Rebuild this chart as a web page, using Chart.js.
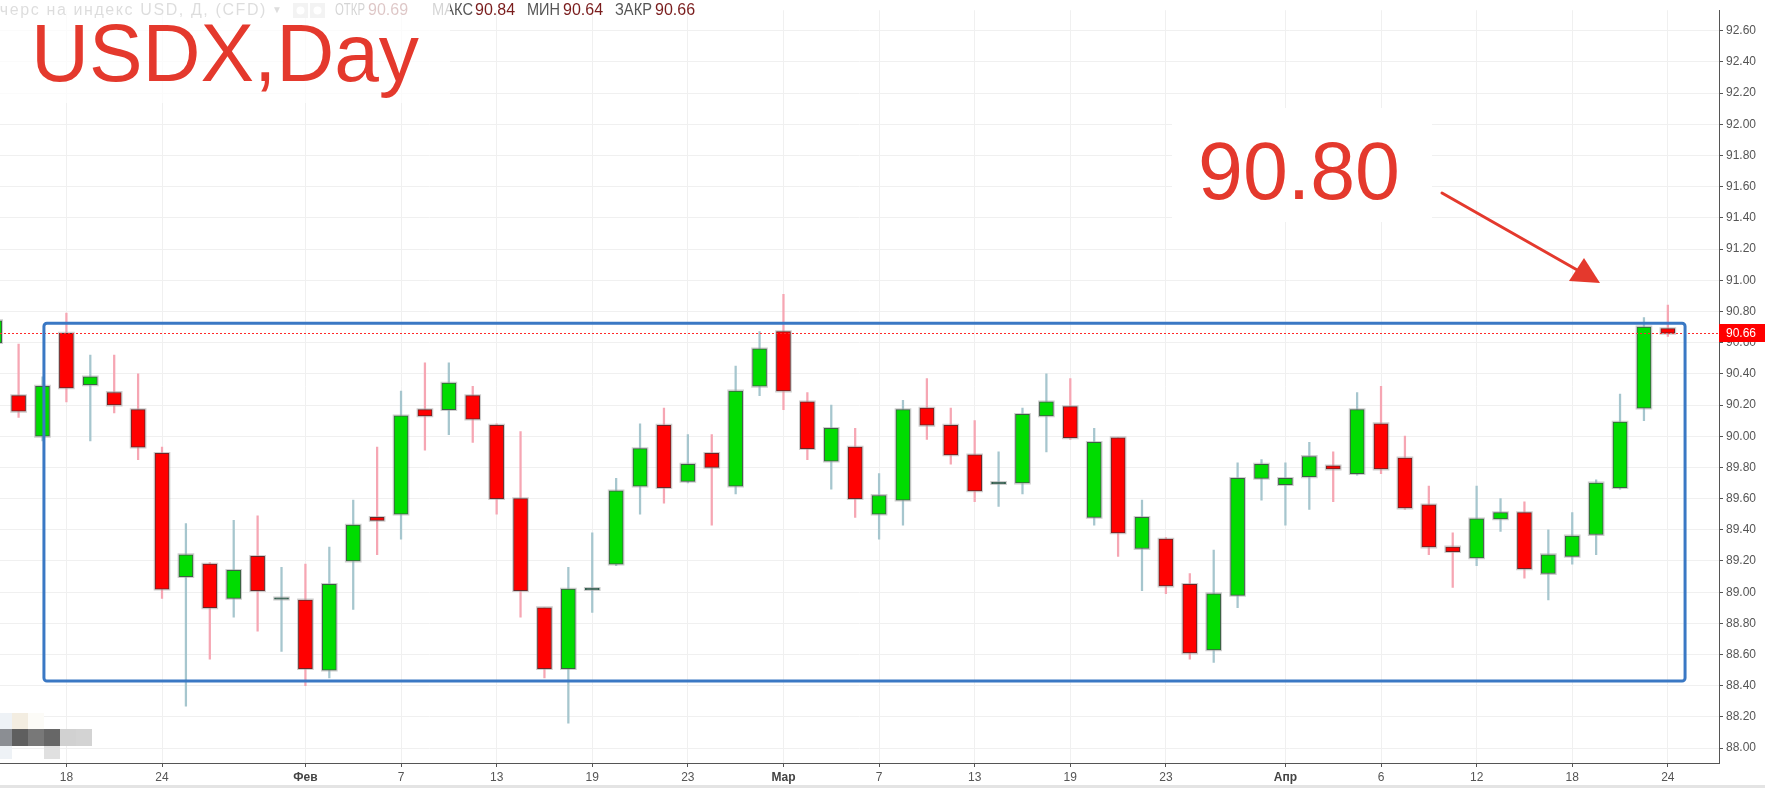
<!DOCTYPE html>
<html><head><meta charset="utf-8">
<script src="https://cdn.jsdelivr.net/npm/chart.js@4.4.1/dist/chart.umd.min.js"></script>
<style>html,body{margin:0;padding:0;background:#fff;overflow:hidden}#wrap{width:1765px;height:788px;position:relative}</style>
</head><body><div id="wrap"><canvas id="c" width="1765" height="788"></canvas></div>
<script>
// ---------- data (daily OHLC, 2018) ----------
const dates = ['Jan 15','Jan 16','Jan 17','Jan 18','Jan 19','Jan 22','Jan 23','Jan 24','Jan 25','Jan 26','Jan 29','Jan 30','Jan 31',
  'Feb 1','Feb 2','Feb 5','Feb 6','Feb 7','Feb 8','Feb 9','Feb 12','Feb 13','Feb 14','Feb 15','Feb 16','Feb 19','Feb 20','Feb 21','Feb 22','Feb 23','Feb 26','Feb 27','Feb 28',
  'Mar 1','Mar 2','Mar 5','Mar 6','Mar 7','Mar 8','Mar 9','Mar 12','Mar 13','Mar 14','Mar 15','Mar 16','Mar 19','Mar 20','Mar 21','Mar 22','Mar 23','Mar 26','Mar 27','Mar 28','Mar 29',
  'Apr 2','Apr 3','Apr 4','Apr 5','Apr 6','Apr 9','Apr 10','Apr 11','Apr 12','Apr 13','Apr 16','Apr 17','Apr 18','Apr 19','Apr 20','Apr 23','Apr 24'];
const opens  = [90.60,90.26,90.00,90.66,90.33,90.28,90.17,89.89,89.10,89.18,88.96,89.23,88.96,
  88.95,88.50,89.20,89.48,89.50,90.17,90.17,90.26,90.07,89.60,88.90,88.51,89.02,89.18,89.68,90.07,89.71,89.89,89.68,90.32,
  90.67,90.22,89.84,89.93,89.50,89.59,90.18,90.07,89.88,89.70,89.70,90.13,90.19,89.48,89.99,89.28,89.34,89.05,88.63,88.98,89.73,
  89.69,89.74,89.81,89.76,90.08,89.86,89.56,89.29,89.22,89.47,89.51,89.12,89.23,89.37,89.67,90.18,90.69];
const highs  = [90.78,90.59,90.38,90.79,90.52,90.52,90.40,89.93,89.44,89.19,89.46,89.49,89.16,
  89.18,89.29,89.59,89.93,90.29,90.47,90.47,90.32,90.08,90.03,88.90,89.16,89.38,89.73,90.08,90.18,90.01,90.01,90.45,90.67,
  90.91,90.28,90.20,90.05,89.76,90.23,90.37,90.18,90.10,89.90,90.18,90.40,90.37,90.05,89.99,89.59,89.35,89.12,89.27,89.83,89.85,
  89.83,89.96,89.90,90.28,90.32,90.00,89.68,89.38,89.68,89.60,89.58,89.40,89.51,89.72,90.27,90.76,90.84];
const lows   = [90.55,90.12,89.97,90.22,89.97,90.15,89.85,88.96,88.27,88.57,88.84,88.75,88.62,
  88.40,88.45,88.89,89.24,89.34,89.91,90.01,89.96,89.50,88.84,88.45,88.16,88.87,89.17,89.50,89.57,89.70,89.43,89.63,90.26,
  90.17,89.85,89.66,89.48,89.34,89.43,89.98,89.82,89.58,89.55,89.63,89.90,89.98,89.43,89.23,89.01,88.99,88.57,88.55,88.90,89.59,
  89.43,89.53,89.58,89.75,89.76,89.53,89.24,89.03,89.17,89.39,89.09,88.95,89.18,89.24,89.66,90.10,90.64];
const closes = [90.74,90.16,90.32,90.31,90.38,90.20,89.93,89.02,89.24,88.90,89.14,89.01,88.96,
  88.51,89.05,89.43,89.46,90.13,90.13,90.34,90.11,89.60,89.01,88.51,89.02,89.02,89.65,89.92,89.67,89.82,89.80,90.29,90.56,
  90.29,89.92,90.05,89.60,89.62,90.17,90.07,89.88,89.65,89.70,90.14,90.22,89.99,89.96,89.38,89.48,89.04,88.61,88.99,89.73,89.82,
  89.73,89.87,89.79,90.17,89.79,89.54,89.29,89.26,89.47,89.51,89.15,89.24,89.36,89.70,90.09,90.70,90.66];

// axis labels
const tickDates  = ['Jan 18','Jan 24','Feb 1','Feb 7','Feb 13','Feb 19','Feb 23','Mar 1','Mar 7','Mar 13','Mar 19','Mar 23','Apr 2','Apr 6','Apr 12','Apr 18','Apr 24'];
const tickLabels = ['18','24','Фев','7','13','19','23','Мар','7','13','19','23','Апр','6','12','18','24'];
const monthLabels = ['Фев','Мар','Апр'];
const priceTicks = [88.00,88.20,88.40,88.60,88.80,89.00,89.20,89.40,89.60,89.80,90.00,90.20,90.40,90.60,90.80,91.00,91.20,91.40,91.60,91.80,92.00,92.20,92.40,92.60];

// annotations
const lastPrice = 90.66;
const rangeBoxIdx = [2.06, 70.72];      // in candle index units
const rangeBoxPrice = [88.43, 90.724];
const titleText = 'USDX,Day';
const targetText = '90.80';
const headerName = 'Фьючерс на индекс USD, Д, (CFD)';
const headerKeys = ['ОТКР','МАКС','МИН','ЗАКР'];

// ---------- derived ----------
const N = dates.length;
const last = N - 1;
const tickIndex = tickDates.map(d => dates.indexOf(d));
const isDoji = i => Math.abs(closes[i] - opens[i]) < 0.005;
const isBull = i => closes[i] >= opens[i];

const wickData = dates.map((d, i) => ({x: i, y: [lows[i], highs[i]]}));
const bodyData = dates.map((d, i) => {
  let lo = Math.min(opens[i], closes[i]), hi = Math.max(opens[i], closes[i]);
  if (hi - lo < 0.008) { const m = (lo + hi) / 2; lo = m - 0.004; hi = m + 0.004; }
  return {x: i, y: [lo, hi]};
});
const haloData = bodyData.map(p => ({x: p.x, y: [p.y[0] - 0.007, p.y[1] + 0.007]}));

const GREEN = '#00dc00', RED = '#ff0000';
const bodyFill = dates.map((d, i) => isDoji(i) ? '#2f5b4b' : (isBull(i) ? GREEN : RED));
const bodyBorder = dates.map((d, i) => isDoji(i) ? '#2f5b4b' : (isBull(i) ? '#3d5f45' : '#6e2626'));
const wickColor = dates.map((d, i) => (isBull(i) ? '#a6c6ce' : '#f6a6b3'));

const FONT = '"Liberation Sans", Arial, sans-serif';

const overlayPlugin = {
  id: 'overlay',
  afterDatasetsDraw(chart) {
    const {ctx, chartArea, scales: {x, y}} = chart;
    ctx.save();
    ctx.beginPath(); ctx.rect(chartArea.left, chartArea.top, chartArea.right - chartArea.left, chartArea.bottom - chartArea.top); ctx.clip();
    // last price dotted line
    const py = Math.round(y.getPixelForValue(lastPrice)) + 0.5;
    ctx.strokeStyle = '#ff2a2a'; ctx.lineWidth = 1; ctx.setLineDash([2, 2]);
    ctx.beginPath(); ctx.moveTo(chartArea.left, py); ctx.lineTo(chartArea.right, py); ctx.stroke();
    ctx.setLineDash([]);
    // range box
    const x0 = x.getPixelForValue(rangeBoxIdx[0]), x1 = x.getPixelForValue(rangeBoxIdx[1]);
    const y0 = y.getPixelForValue(rangeBoxPrice[1]), y1 = y.getPixelForValue(rangeBoxPrice[0]);
    const r = 3;
    ctx.strokeStyle = '#3a78c4'; ctx.lineWidth = 3;
    ctx.beginPath();
    ctx.moveTo(x0 + r, y0); ctx.lineTo(x1 - r, y0); ctx.arcTo(x1, y0, x1, y0 + r, r);
    ctx.lineTo(x1, y1 - r); ctx.arcTo(x1, y1, x1 - r, y1, r);
    ctx.lineTo(x0 + r, y1); ctx.arcTo(x0, y1, x0, y1 - r, r);
    ctx.lineTo(x0, y0 + r); ctx.arcTo(x0, y0, x0 + r, y0, r);
    ctx.closePath(); ctx.stroke();
    ctx.restore();
  },
  afterDraw(chart) {
    const {ctx, chartArea, scales: {y}} = chart;
    ctx.save();
    // price label on axis
    const py = y.getPixelForValue(lastPrice);
    ctx.fillStyle = '#ff0000';
    ctx.fillRect(chartArea.right, Math.round(py) - 9, 1765 - chartArea.right, 18);
    ctx.fillStyle = '#ffffff'; ctx.font = '12px ' + FONT; ctx.textBaseline = 'middle'; ctx.textAlign = 'left';
    ctx.fillText(lastPrice.toFixed(2), chartArea.right + 7, Math.round(py) + 0.5);

    // header legend line
    ctx.textBaseline = 'alphabetic';
    ctx.font = '16px ' + FONT;
    const visible = headerName.slice(3);
    const w = ctx.measureText(visible).width;
    ctx.letterSpacing = Math.max(0, (267 - w) / visible.length).toFixed(2) + 'px';
    ctx.fillStyle = '#7a7a7a'; ctx.textAlign = 'right';
    ctx.fillText(headerName, 267, 15);
    ctx.letterSpacing = '0px';
    ctx.textAlign = 'left';
    ctx.font = '10px ' + FONT;
    ctx.fillText('▼', 272, 13);
    ctx.fillStyle = '#cfcfcf'; ctx.fillRect(293, 3, 15, 15); ctx.fillRect(310, 3, 15, 15);
    ctx.fillStyle = '#ffffff';
    ctx.beginPath(); ctx.arc(300.5, 10.5, 4, 0, Math.PI * 2); ctx.fill();
    ctx.beginPath(); ctx.arc(317.5, 10.5, 4, 0, Math.PI * 2); ctx.fill();
    ctx.font = '16px ' + FONT;
    const vals = [opens[last], highs[last], lows[last], closes[last]];
    const keyX = [335, 432, 527, 615], keyW = [30, 41, 33, 37], valX = [368, 475, 563, 655];
    for (let k = 0; k < 4; k++) {
      ctx.fillStyle = '#555555'; ctx.fillText(headerKeys[k], keyX[k], 15, keyW[k]);
      ctx.fillStyle = '#7a1d1d'; ctx.fillText(vals[k].toFixed(2), valX[k], 15, 41);
    }
    // translucent white panel behind title
    ctx.fillStyle = 'rgba(255,255,255,0.75)';
    ctx.fillRect(0, 0, 450, 103);
    // title
    ctx.fillStyle = '#e4392d';
    ctx.font = '81px ' + FONT;
    ctx.fillText(titleText, 31, 81, 388);
    // target annotation
    ctx.fillStyle = '#ffffff';
    ctx.fillRect(1172, 108, 260, 114);
    ctx.fillStyle = '#e4392d';
    ctx.fillText(targetText, 1198, 199, 202);
    // arrow
    ctx.strokeStyle = '#e4392d'; ctx.lineWidth = 3; ctx.lineCap = 'round';
    ctx.beginPath(); ctx.moveTo(1442, 193); ctx.lineTo(1579, 271); ctx.stroke();
    ctx.beginPath(); ctx.moveTo(1600, 283); ctx.lineTo(1569, 281); ctx.lineTo(1584, 258); ctx.closePath(); ctx.fill();

    // pixelated blur patch (bottom-left)
    const cells = [
      [0,713,12,16,'#eef2f6'],[12,713,16,16,'#f3ede1'],[28,713,16,16,'#fcfbf7'],
      [0,729,12,17,'#8b8e93'],[12,729,16,17,'#5f5f5f'],[28,729,16,17,'#787878'],[44,729,16,17,'#676767'],[60,729,16,17,'#d1d1d1'],[76,729,16,17,'#d3d3d3'],
      [0,746,12,13,'#eef2f6'],[44,746,16,13,'#e0e0e0']
    ];
    cells.forEach(c => { ctx.fillStyle = c[4]; ctx.fillRect(c[0], c[1], c[2], c[3]); });
    // bottom grey band
    ctx.fillStyle = '#e4e4e4';
    ctx.fillRect(0, 785, 1765, 3);
    ctx.restore();
  }
};

new Chart(document.getElementById('c'), {
  type: 'bar',
  data: {
    datasets: [
      {data: bodyData, backgroundColor: bodyFill, borderColor: bodyBorder, borderWidth: 1, borderSkipped: false, barThickness: 14, grouped: false, order: 0},
      {data: haloData, backgroundColor: 'rgba(165,165,165,0.55)', borderWidth: 0, barThickness: 16, grouped: false, order: 1},
      {data: wickData, backgroundColor: wickColor, borderWidth: 0, barThickness: 1.6, grouped: false, order: 2}
    ]
  },
  options: {
    responsive: false, animation: false, devicePixelRatio: 1, events: [],
    layout: {padding: 0},
    plugins: {legend: {display: false}, tooltip: {enabled: false}},
    scales: {
      x: {
        type: 'linear', min: 0.222, max: 72.14, offset: false,
        grid: {offset: false, color: '#f0f0f0', tickColor: '#555', tickLength: 4, drawTicks: true},
        border: {display: true, color: '#555', width: 1},
        afterBuildTicks: s => { s.ticks = tickIndex.map(v => ({value: v})); },
        afterFit: s => { s.height = 25; },
        ticks: {
          autoSkip: false, maxRotation: 0, padding: 3,
          callback: (v) => tickLabels[tickIndex.indexOf(v)],
          color: c => monthLabels.includes(tickLabels[c.index]) ? '#444' : '#555',
          font: c => ({family: FONT, size: 12, weight: monthLabels.includes(tickLabels[c.index]) ? 'bold' : 'normal'})
        }
      },
      y: {
        type: 'linear', position: 'right', min: 87.905, max: 92.731, beginAtZero: false,
        grid: {color: '#f0f0f0', tickColor: '#555', tickLength: 4},
        border: {display: true, color: '#555', width: 1},
        afterBuildTicks: s => { s.ticks = priceTicks.map(v => ({value: v})); },
        afterFit: s => { s.width = 46; },
        ticks: {padding: 3, color: '#555', font: {family: FONT, size: 12}, callback: v => Number(v).toFixed(2)}
      }
    }
  },
  plugins: [overlayPlugin]
});
</script>
</body></html>
